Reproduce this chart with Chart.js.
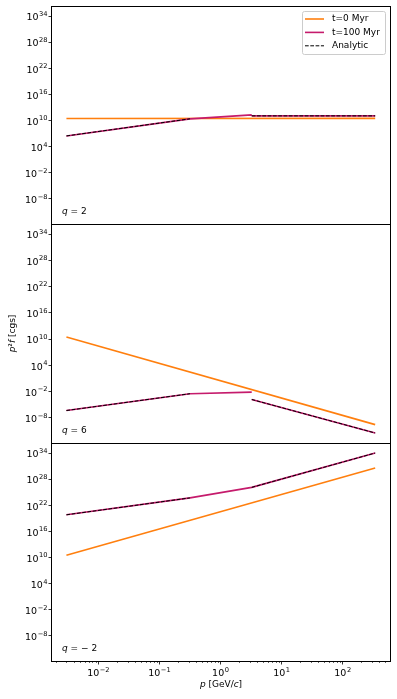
<!DOCTYPE html>
<html>
<head>
<meta charset="utf-8">
<script src="https://cdn.jsdelivr.net/npm/chart.js@4.4.0/dist/chart.umd.min.js"></script>
<style>
  html, body { margin: 0; padding: 0; background: #fff; }
  #wrap { position: relative; width: 397px; height: 699px; }
  #wrap canvas { position: absolute; left: 0; top: 0; }
</style>
</head>
<body>
<div id="wrap">
  <canvas id="c1" width="397" height="699"></canvas>
  <canvas id="c2" width="397" height="699"></canvas>
  <canvas id="c3" width="397" height="699"></canvas>
</div>
<script>
// momentum points, GeV/c
const pEnds = [3.0e-3, 340];          // t=0 power law ends
const pLow = [3.0e-3, 0.316, 3.24];   // t=100 Myr, lower part
const pHigh = [3.24, 340];            // t=100 Myr, upper part
const pAnaLow = [3.0e-3, 0.316];      // analytic, lower part

const qLabels = ['2', '6', '\u2212 2'];

// t=0 Myr
const t0Q2 = [3.0e10, 3.2e10];
const t0Q6 = [3.0e10, 2.9e-10];
const t0Qm2 = [3.5e10, 3.5e30];

// t=100 Myr
const t100LowQ2 = [3.0e6, 2.5e10, 2.0e11];
const t100HighQ2 = [1.2e11, 1.2e11];
const t100LowQ6 = [4.8e-7, 3.3e-3, 7.8e-3];
const t100HighQ6 = [1.6e-4, 3.5e-12];
const t100LowQm2 = [6.6e19, 5.0e23, 1.3e26];
const t100HighQm2 = [1.3e26, 1.0e34];

// analytic
const anaLowQ2 = [3.0e6, 2.5e10];
const anaHighQ2 = [1.2e11, 1.2e11];
const anaLowQ6 = [4.8e-7, 3.3e-3];
const anaHighQ6 = [1.6e-4, 3.5e-12];
const anaLowQm2 = [6.6e19, 5.0e23];
const anaHighQm2 = [1.3e26, 1.0e34];

const yTicks = [1e-8, 1e-2, 1e4, 1e10, 1e16, 1e22, 1e28, 1e34];
const xTicks = [1e-2, 1e-1, 1, 10, 100];

const ORANGE = '#ff7f0e';
const PINK = '#c51b6c';
const FONT = "'DejaVu Sans'";

const XMIN = Math.pow(10, -2.759), XMAX = Math.pow(10, 2.774);
const YMIN = Math.pow(10, -13.74), YMAX = Math.pow(10, 36.3);

Chart.defaults.font.family = FONT;
Chart.defaults.font.size = 9;
Chart.defaults.color = '#000';

function pts(xs, ys) { return xs.map((x, i) => ({x: x, y: ys[i]})); }

function drawParts(ctx, parts, x, y, align) {
  let total = 0;
  parts.forEach(p => {
    ctx.font = (p[1] ? 'italic ' : '') + '9px ' + FONT;
    total += ctx.measureText(p[0]).width;
  });
  let cx = align === 'center' ? x - total / 2 : x;
  ctx.textAlign = 'left';
  ctx.textBaseline = 'middle';
  parts.forEach(p => {
    ctx.font = (p[1] ? 'italic ' : '') + '9px ' + FONT;
    ctx.fillText(p[0], cx, y);
    cx += ctx.measureText(p[0]).width;
  });
}

// "10" with a raised exponent, like matplotlib's log labels
function drawPow(ctx, v, x, baseline, align) {
  const e = String(Math.round(Math.log10(v))).replace('-', '\u2212');
  ctx.font = '9.5px ' + FONT;
  const wb = ctx.measureText('10').width;
  ctx.font = '6.7px ' + FONT;
  const we = ctx.measureText(e).width;
  const w = wb + we + 0.5;
  let x0 = align === 'right' ? x - w : x - w / 2;
  ctx.textAlign = 'left';
  ctx.textBaseline = 'alphabetic';
  ctx.font = '9.5px ' + FONT;
  ctx.fillText('10', x0, baseline);
  ctx.font = '6.7px ' + FONT;
  ctx.fillText(e, x0 + wb + 0.5, baseline - 4.5);
}

const panels = [
  {id: 'c1', top: 6, bottom: 224, q: qLabels[0], t0: t0Q2, low: t100LowQ2, high: t100HighQ2, aLow: anaLowQ2, aHigh: anaHighQ2},
  {id: 'c2', top: 224, bottom: 443, q: qLabels[1], t0: t0Q6, low: t100LowQ6, high: t100HighQ6, aLow: anaLowQ6, aHigh: anaHighQ6},
  {id: 'c3', top: 443, bottom: 661, q: qLabels[2], t0: t0Qm2, low: t100LowQm2, high: t100HighQm2, aLow: anaLowQm2, aHigh: anaHighQm2}
];

panels.forEach((pn, k) => {
  const isBottom = k === 2;

  const extras = {
    id: 'extras' + k,
    afterDraw(chart) {
      const ctx = chart.ctx;
      const a = chart.chartArea;
      ctx.save();
      // frame
      ctx.strokeStyle = '#000';
      ctx.lineWidth = 1;
      ctx.strokeRect(Math.round(a.left) - 0.5, Math.round(a.top) + 0.5, Math.round(a.right - a.left) + 1, Math.round(a.bottom - a.top));
      ctx.fillStyle = '#000';
      // y tick labels
      const ys = chart.scales.y;
      yTicks.forEach(v => drawPow(ctx, v, 47.5, ys.getPixelForValue(v) + 4.3, 'right'));
      // q label
      drawParts(ctx, [['q', true], [' = ' + pn.q, false]], 62, a.bottom - 12.5, 'left');

      if (k === 0) {
        // legend
        ctx.fillStyle = 'rgba(255,255,255,0.8)';
        ctx.strokeStyle = '#cccccc';
        ctx.beginPath();
        ctx.roundRect(302.5, 11.5, 83, 43, 2);
        ctx.fill();
        ctx.stroke();
        const rows = [['t=0 Myr', ORANGE, 1.6, []], ['t=100 Myr', PINK, 1.6, []], ['Analytic', '#000', 1, [3.7, 1.6]]];
        rows.forEach((r, i) => {
          const y = 19 + i * 13.4;
          ctx.strokeStyle = r[1];
          ctx.lineWidth = r[2];
          ctx.setLineDash(r[3]);
          ctx.beginPath();
          ctx.moveTo(305, y);
          ctx.lineTo(324, y);
          ctx.stroke();
          ctx.setLineDash([]);
          ctx.fillStyle = '#000';
          drawParts(ctx, [[r[0], false]], 332, y, 'left');
        });
      }
      if (k === 1) {
        // y axis title
        ctx.translate(13, (a.top + a.bottom) / 2);
        ctx.rotate(-Math.PI / 2);
        drawParts(ctx, [['p', true], ['\u00b2', false], ['f', true], [' [cgs]', false]], 0, 0, 'center');
      }
      if (isBottom) {
        const xs = chart.scales.x;
        // x tick labels
        xTicks.forEach(v => drawPow(ctx, v, xs.getPixelForValue(v), 676, 'center'));
        // minor x ticks
        ctx.strokeStyle = '#000';
        ctx.lineWidth = 0.6;
        for (let e = -3; e <= 2; e++) {
          for (let m = 2; m <= 9; m++) {
            const v = m * Math.pow(10, e);
            if (v < XMIN || v > XMAX) continue;
            const px = Math.round(xs.getPixelForValue(v)) + 0.5;
            ctx.beginPath();
            ctx.moveTo(px, a.bottom);
            ctx.lineTo(px, a.bottom + 2);
            ctx.stroke();
          }
        }
        drawParts(ctx, [['p', true], [' [GeV/', false], ['c', true], [']', false]], (a.left + a.right) / 2, 684.5, 'center');
      }
      ctx.restore();
    }
  };

  const t100Data = pts(pLow, pn.low).concat([{x: pHigh[0], y: null}], pts(pHigh, pn.high));
  const anaData = pts(pAnaLow, pn.aLow).concat([{x: pHigh[0], y: null}], pts(pHigh, pn.aHigh));

  new Chart(document.getElementById(pn.id), {
    type: 'line',
    data: {
      datasets: [
        {label: 'Analytic', data: anaData, borderColor: '#000', borderWidth: 1, borderDash: [3.7, 1.6], pointRadius: 0, order: 0},
        {label: 't=100 Myr', data: t100Data, borderColor: PINK, borderWidth: 1.6, pointRadius: 0, order: 1},
        {label: 't=0 Myr', data: pts(pEnds, pn.t0), borderColor: ORANGE, borderWidth: 1.6, pointRadius: 0, order: 2}
      ]
    },
    options: {
      responsive: false,
      animation: false,
      devicePixelRatio: 1,
      spanGaps: false,
      elements: {line: {tension: 0, borderJoinStyle: 'round'}},
      layout: {padding: {left: 0, right: 7, top: pn.top, bottom: isBottom ? 0 : 699 - pn.bottom}},
      plugins: {legend: {display: false}, tooltip: {enabled: false}},
      scales: {
        x: {
          type: 'logarithmic', min: XMIN, max: XMAX, display: isBottom,
          afterBuildTicks: s => { s.ticks = xTicks.map(v => ({value: v})); },
          afterFit: s => { s.height = isBottom ? 38 : 0; },
          border: {display: false},
          grid: {drawOnChartArea: false, tickLength: 3.5, color: '#000', tickWidth: 0.8},
          ticks: {display: false, autoSkip: false, maxRotation: 0}
        },
        y: {
          type: 'logarithmic', min: YMIN, max: YMAX,
          afterBuildTicks: s => { s.ticks = yTicks.map(v => ({value: v})); },
          afterFit: s => { s.width = 52; },
          border: {display: false},
          grid: {drawOnChartArea: false, tickLength: 3.5, color: '#000', tickWidth: 0.8},
          ticks: {display: false, autoSkip: false}
        }
      }
    },
    plugins: [extras]
  });
});
</script>
</body>
</html>
